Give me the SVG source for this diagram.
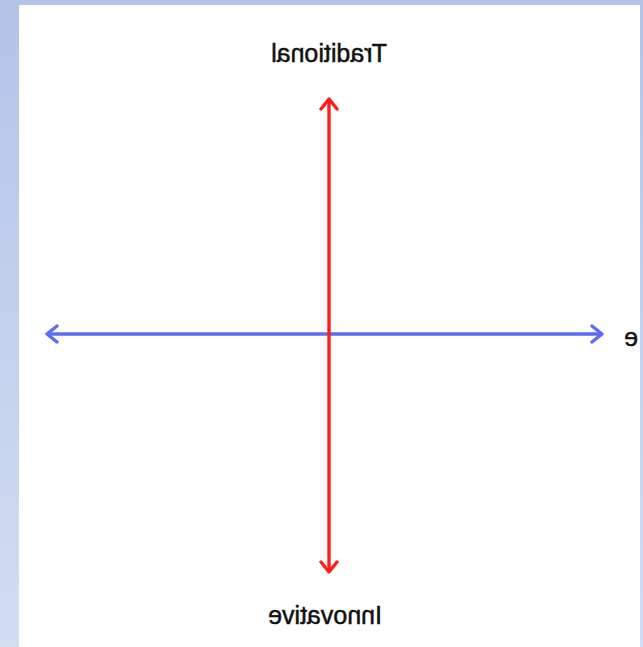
<svg xmlns="http://www.w3.org/2000/svg" width="643" height="647" viewBox="0 0 643 647">
  <defs>
    <linearGradient id="bg" x1="0" y1="0" x2="0" y2="1">
      <stop offset="0" stop-color="#B2C5E8"/>
      <stop offset="1" stop-color="#D2DDF2"/>
    </linearGradient>
    <marker id="ahRed" viewBox="0 0 14 20" refX="12" refY="10" markerWidth="14" markerHeight="20" markerUnits="userSpaceOnUse" orient="auto-start-reverse">
      <path d="M2,2 L12,10 L2,18" fill="none" stroke="#FF1E1E" stroke-width="3.4" stroke-linecap="round" stroke-linejoin="round"/>
    </marker>
    <marker id="ahBlue" viewBox="0 0 14 20" refX="12" refY="10" markerWidth="14" markerHeight="20" markerUnits="userSpaceOnUse" orient="auto-start-reverse">
      <path d="M2,2 L12,10 L2,18" fill="none" stroke="#5A6CF6" stroke-width="3.4" stroke-linecap="round" stroke-linejoin="round"/>
    </marker>
  </defs>
  <style>
    .lbl { font-family: "Liberation Sans", Arial, sans-serif; font-size: 25px; fill: #111; stroke: #111; stroke-width: 0.5px; text-anchor: middle; }
  </style>
  <rect x="0" y="0" width="643" height="647" fill="url(#bg)"/>
  <rect x="19" y="5" width="621" height="642" fill="#FFFFFF"/>
  <g id="connectors">
    <line x1="47" y1="334" x2="602" y2="334" stroke="#5A6CF6" stroke-width="3.4" marker-start="url(#ahBlue)" marker-end="url(#ahBlue)"/>
    <line x1="329" y1="99" x2="329" y2="572" stroke="#FF1E1E" stroke-width="3.4" marker-start="url(#ahRed)" marker-end="url(#ahRed)"/>
  </g>
  <g id="traditional">
    <text class="lbl" transform="translate(329,62) scale(-1,1)" x="0" y="0">Traditional</text>
  </g>
  <g id="innovative">
    <text class="lbl" transform="translate(325,624) scale(-1,1)" x="0" y="0">Innovative</text>
  </g>
  <g id="right-label">
    <text class="lbl" transform="translate(631,346) scale(-1,1)" x="0" y="0">e</text>
  </g>
</svg>
